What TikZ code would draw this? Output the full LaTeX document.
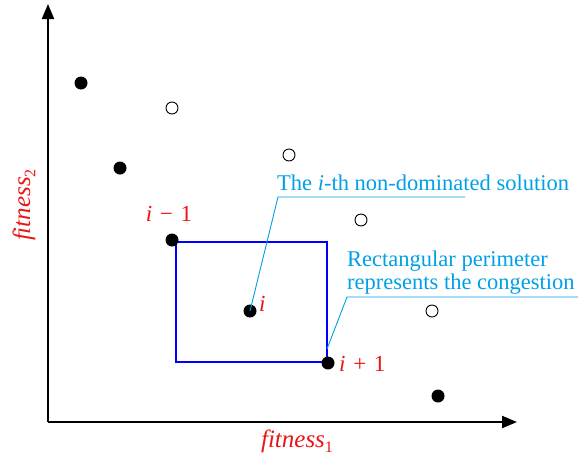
\documentclass[tikz,border=0pt]{standalone}
\usepackage{fontspec}
\setmainfont{Liberation Serif}
\usetikzlibrary{arrows.meta}
\definecolor{callout}{RGB}{0,160,230}
\definecolor{lblred}{RGB}{235,20,20}
\newcommand{\fitlbl}[1]{\textit{fitness}\raisebox{-0.45ex}{\fontsize{16}{18}\selectfont #1}}
\tikzset{
  fdot/.style={circle,fill=black,inner sep=0pt,minimum size=13pt},
  odot/.style={circle,draw=black,line width=0.9pt,fill=white,inner sep=0pt,minimum size=12pt},
  axisline/.style={line width=2.2pt,-{Triangle[length=15pt,width=12pt]}},
  redlbl/.style={text=lblred,font=\fontsize{23}{26}\selectfont,inner sep=0pt},
  axlbl/.style={text=lblred,font=\fontsize{25}{28}\selectfont,inner sep=0pt},
  calltext/.style={text=callout,font=\fontsize{22.5}{26}\selectfont,inner sep=0pt},
  callline/.style={draw=callout,line width=0.9pt},
}
\begin{document}
\begin{tikzpicture}[x=1pt,y=-1pt]
\useasboundingbox (0,0) rectangle (580,456);
% axes
\coordinate (O) at (48,422);
\coordinate (ytip) at (48,4);
\coordinate (xtip) at (517,422);
\draw[axisline] (O) -- (ytip);
\draw[axisline] (O) -- (xtip);
% rectangle
\draw[blue,line width=2.2pt] (176,242) rectangle (327,362);
% open circles
\node[odot] (o1) at (172,108) {};
\node[odot] (o2) at (289,155) {};
\node[odot] (o3) at (361,220) {};
\node[odot] (o4) at (432,311) {};
% filled dots
\node[fdot] (d1) at (81,83) {};
\node[fdot] (d2) at (120,168) {};
\node[fdot] (im1) at (172,240) {};
\node[fdot] (ii) at (250,311) {};
\node[fdot] (ip1) at (328,363) {};
\node[fdot] (d6) at (438,396) {};
% labels
\node[redlbl] (lim1) at (169,214) {\textit{i}\,\,−\,\,1};
\node[redlbl,anchor=west] (li) at (259,304) {\textit{i}};
\node[redlbl,anchor=west] (lip1) at (339,364) {\textit{i}\,\,+\,\,1};
\node[axlbl] (fx) at (297,441) {\fitlbl{1}};
\node[axlbl,rotate=90] (fy) at (24,205) {\fitlbl{2}};
% callouts
\coordinate (c1a) at (278,197);
\coordinate (c1b) at (465,197);
\node[calltext,anchor=base west] (t1) at (277,190) {The \textit{i}-th non-dominated solution};
\draw[callline] (ii.center) -- (c1a) -- (c1b);
\coordinate (c2a) at (347,297);
\coordinate (c2b) at (578,297);
\node[calltext,anchor=base west] (t2) at (347,266) {Rectangular perimeter};
\node[calltext,anchor=base west] (t3) at (347,289) {represents the congestion};
\draw[callline] (327,349) -- (c2a) -- (c2b);
\end{tikzpicture}
\end{document}
